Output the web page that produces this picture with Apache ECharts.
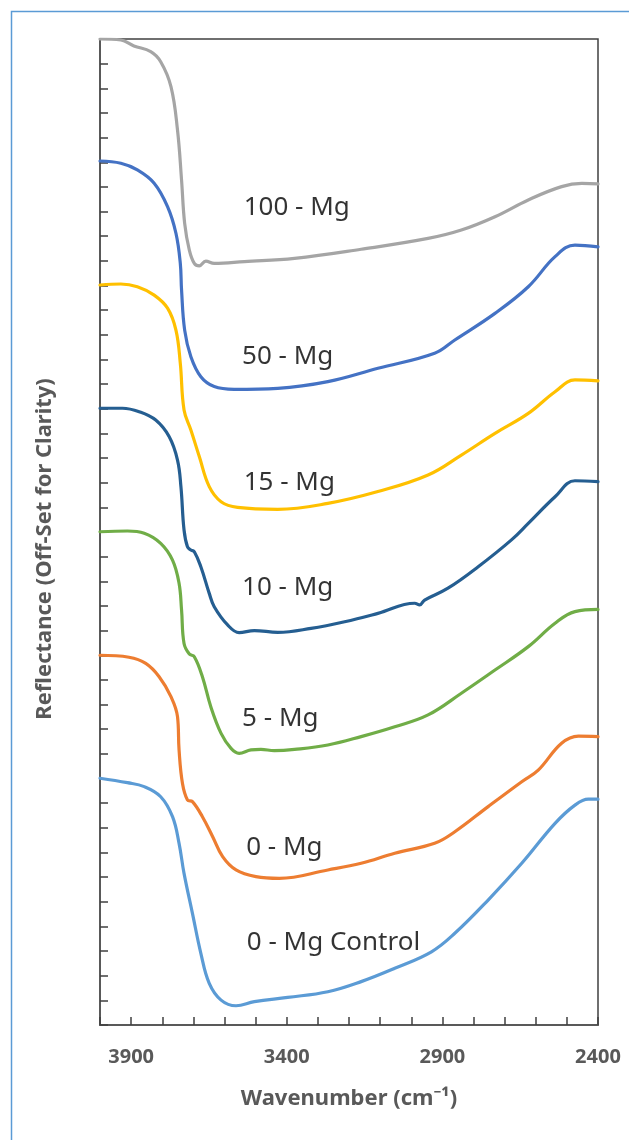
<!DOCTYPE html>
<html>
<head>
<meta charset="utf-8">
<script src="https://cdn.jsdelivr.net/npm/echarts@6/dist/echarts.min.js"></script>
<style>
html,body{margin:0;padding:0;background:#fff;}
#chart{width:629px;height:1140px;}
</style>
</head>
<body>
<div id="chart"></div>
<script>
// ---- Data (wavenumber in cm-1, reflectance offset units) ----
const seriesNames = ['100 - Mg', '50 - Mg', '15 - Mg', '10 - Mg', '5 - Mg', '0 - Mg', '0 - Mg Control'];

const wn100 = [4000, 3933, 3891, 3837, 3805, 3772, 3751, 3738, 3728, 3713, 3697, 3681, 3660, 3633, 3536, 3375, 3161, 2946, 2839, 2731, 2624, 2517, 2452, 2400];
const r100  = [40.0, 39.96, 39.72, 39.49, 39.08, 38.07, 36.31, 34.28, 32.52, 31.44, 30.90, 30.80, 30.99, 30.90, 30.97, 31.10, 31.47, 31.91, 32.25, 32.79, 33.47, 34.01, 34.14, 34.12];

const wn50 = [4000, 3933, 3880, 3826, 3783, 3756, 3742, 3738, 3728, 3708, 3676, 3633, 3569, 3429, 3268, 3107, 2925, 2860, 2731, 2624, 2538, 2474, 2400];
const r50  = [35.05, 34.96, 34.69, 34.15, 33.20, 32.12, 30.90, 29.82, 28.19, 27.11, 26.30, 25.90, 25.79, 25.83, 26.10, 26.64, 27.25, 27.79, 28.87, 29.95, 31.17, 31.64, 31.57];

const wn15 = [4000, 3933, 3880, 3826, 3783, 3756, 3742, 3730, 3708, 3681, 3649, 3611, 3558, 3429, 3268, 3107, 2946, 2839, 2731, 2624, 2538, 2474, 2400];
const r15  = [30.02, 30.06, 29.95, 29.61, 29.08, 28.19, 26.84, 24.95, 24.14, 23.06, 21.84, 21.23, 21.00, 20.92, 21.16, 21.64, 22.31, 23.12, 24.00, 24.81, 25.69, 26.17, 26.13];

const wn10 = [4000, 3928, 3874, 3821, 3778, 3751, 3740, 3730, 3719, 3708, 3697, 3676, 3649, 3633, 3590, 3553, 3504, 3429, 3322, 3214, 3107, 2989, 2973, 2957, 2882, 2785, 2678, 2624, 2538, 2474, 2400];
const r10  = [25.02, 25.02, 24.88, 24.54, 23.87, 22.92, 21.84, 20.08, 19.40, 19.27, 19.20, 18.59, 17.51, 16.97, 16.23, 15.92, 16.00, 15.93, 16.09, 16.36, 16.70, 17.11, 17.04, 17.24, 17.72, 18.59, 19.68, 20.35, 21.43, 22.08, 22.04];

const wn5 = [4000, 3912, 3858, 3805, 3767, 3746, 3738, 3730, 3713, 3697, 3671, 3644, 3611, 3579, 3553, 3515, 3483, 3440, 3375, 3268, 3161, 3053, 2946, 2839, 2731, 2624, 2538, 2474, 2400];
const r5  = [20.01, 20.04, 19.95, 19.54, 18.86, 17.92, 16.84, 15.48, 15.05, 14.94, 14.13, 12.91, 11.83, 11.22, 11.02, 11.16, 11.18, 11.13, 11.18, 11.36, 11.70, 12.10, 12.58, 13.46, 14.40, 15.35, 16.30, 16.77, 16.86];

const wn0 = [4000, 3907, 3853, 3810, 3772, 3751, 3746, 3735, 3719, 3703, 3671, 3638, 3606, 3563, 3499, 3424, 3268, 3161, 3053, 2925, 2860, 2753, 2645, 2592, 2517, 2463, 2400];
const r0  = [15.0, 14.92, 14.67, 14.13, 13.32, 12.51, 11.16, 9.80, 9.13, 9.06, 8.45, 7.64, 6.83, 6.29, 6.02, 5.95, 6.29, 6.56, 6.97, 7.37, 7.84, 8.86, 9.87, 10.34, 11.43, 11.72, 11.70];

const wnCtrl = [4000, 3912, 3858, 3805, 3767, 3746, 3730, 3703, 3676, 3649, 3611, 3563, 3504, 3397, 3268, 3161, 3053, 2935, 2860, 2753, 2645, 2538, 2474, 2431, 2400];
const rCtrl  = [10.01, 9.83, 9.67, 9.26, 8.45, 7.37, 6.15, 4.53, 2.91, 1.69, 1.01, 0.78, 0.95, 1.12, 1.35, 1.76, 2.30, 2.97, 3.72, 5.07, 6.56, 8.18, 8.92, 9.16, 9.16];

// Annotation labels anchored at data coordinates
const labelWn = [3540, 3545, 3540, 3545, 3545, 3532, 3530];
const labelR  = [33.18, 27.10, 21.99, 17.73, 12.45, 7.18, 3.33];

// x tick labels shown
const xTickLabels = [3900, 3400, 2900, 2400];

const seriesColors = ['#A5A5A5', '#4472C4', '#FFC000', '#255E91', '#70AD47', '#ED7D31', '#5B9BD5'];
const wnSets = [wn100, wn50, wn15, wn10, wn5, wn0, wnCtrl];
const rSets = [r100, r50, r15, r10, r5, r0, rCtrl];

const pair = (xs, ys) => xs.map((x, i) => [x, ys[i]]);

const series = seriesNames.map((name, i) => ({
  name: name,
  type: 'line',
  data: pair(wnSets[i], rSets[i]),
  showSymbol: false,
  symbol: 'none',
  smooth: 0.4,
  clip: true,
  lineStyle: { color: seriesColors[i], width: 3.2, cap: 'round', join: 'round' },
  z: 2
}));

series.push({
  type: 'scatter',
  data: seriesNames.map((n, i) => ({ value: [labelWn[i], labelR[i]], name: n })),
  symbolSize: 1,
  itemStyle: { color: 'rgba(0,0,0,0)' },
  silent: true,
  label: {
    show: true,
    position: 'right',
    distance: 0,
    formatter: p => p.name,
    color: '#000000',
    fontFamily: 'Noto Sans',
    fontSize: 26
  },
  labelLayout: { hideOverlap: false },
  z: 5
});

const chart = echarts.init(document.getElementById('chart'), null, { renderer: 'canvas' });
chart.setOption({
  backgroundColor: '#ffffff',
  animation: false,
  graphic: [{
    type: 'rect',
    left: 9, top: 9,
    shape: { width: 700, height: 1200 },
    style: { fill: 'none', stroke: '#5B9BD5', lineWidth: 1.5 },
    silent: true,
    z: -10
  }],
  grid: {
    left: 100, right: 31, top: 39, bottom: 115,
    show: true, borderColor: '#404040', borderWidth: 1.5, backgroundColor: 'transparent'
  },
  xAxis: {
    type: 'value',
    inverse: true,
    min: 2400, max: 4000, interval: 100,
    name: 'Wavenumber (cm⁻¹)',
    nameLocation: 'middle',
    nameGap: 63,
    nameTextStyle: { color: '#595959', fontFamily: 'Noto Sans', fontWeight: 'bold', fontSize: 22 },
    axisLine: { show: true, lineStyle: { color: '#595959', width: 2 } },
    axisTick: { show: true, inside: true, length: 8, lineStyle: { color: '#404040', width: 1.5 } },
    axisLabel: {
      color: '#595959', fontFamily: 'Noto Sans', fontWeight: 'bold', fontSize: 20, margin: 22,
      formatter: v => (xTickLabels.indexOf(v) >= 0 ? String(v) : '')
    },
    splitLine: { show: false }
  },
  yAxis: {
    type: 'value',
    min: 0, max: 40, interval: 1,
    name: 'Reflectance (Off-Set for Clarity)',
    nameLocation: 'middle',
    nameGap: 44,
    nameRotate: 90,
    nameTextStyle: { color: '#595959', fontFamily: 'Noto Sans', fontWeight: 'bold', fontSize: 22, padding: [0, 34, 0, 0] },
    axisLine: { show: true, lineStyle: { color: '#595959', width: 2 } },
    axisTick: { show: true, inside: true, length: 8, lineStyle: { color: '#404040', width: 1.5 } },
    axisLabel: { show: false },
    splitLine: { show: false }
  },
  series: series
});
</script>
</body>
</html>
